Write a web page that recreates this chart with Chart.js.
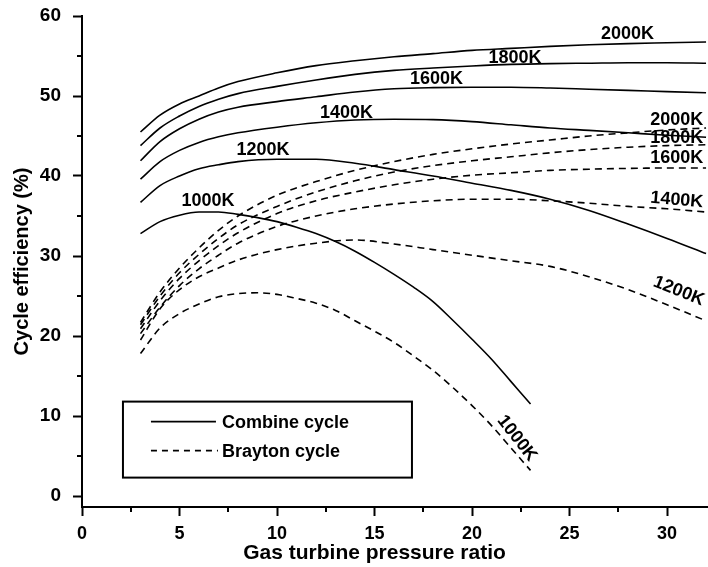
<!DOCTYPE html>
<html>
<head>
<meta charset="utf-8">
<script src="https://cdn.jsdelivr.net/npm/chart.js@4.4.1/dist/chart.umd.min.js"></script>
<style>
  html, body { margin: 0; padding: 0; background: #fff; }
  #wrap { width: 708px; height: 567px; }
</style>
</head>
<body>
<div id="wrap"><canvas id="c" width="708" height="567"></canvas></div>
<script>
// Gas turbine pressure ratio sample points
const pressureRatio = [3, 4, 5, 6, 7, 8, 10, 12, 14, 16, 18, 20, 22, 24, 26, 28, 30, 32];
const pressureRatio1000 = [3, 4, 5, 6, 7, 8, 9, 10, 11, 12, 13, 14, 15, 16, 17, 18, 19, 20, 21, 22, 23];

// Combined cycle efficiency (%) by turbine inlet temperature
const combined2000 = [45.5, 47.6, 49.0, 50.0, 51.0, 51.8, 52.9, 53.8, 54.4, 54.9, 55.3, 55.7, 55.95, 56.2, 56.4, 56.55, 56.65, 56.75];
const combined1800 = [43.8, 46.0, 47.5, 48.7, 49.6, 50.3, 51.2, 52.0, 52.7, 53.2, 53.5, 53.75, 53.95, 54.05, 54.1, 54.15, 54.15, 54.1];
const combined1600 = [41.9, 44.3, 45.9, 47.1, 48.0, 48.6, 49.3, 49.9, 50.5, 50.9, 51.05, 51.1, 51.1, 51.0, 50.85, 50.7, 50.55, 50.4];
const combined1400 = [39.6, 41.8, 43.2, 44.2, 44.9, 45.4, 46.1, 46.65, 47.0, 47.1, 47.05, 46.8, 46.4, 46.0, 45.7, 45.4, 45.1, 44.85];
const combined1200 = [36.7, 38.8, 40.0, 40.9, 41.4, 41.8, 42.1, 42.1, 41.6, 40.8, 40.0, 39.1, 38.2, 37.1, 35.7, 34.0, 32.2, 30.3];
const combined1000 = [32.8, 34.3, 35.1, 35.5, 35.5, 35.2, 34.8, 34.3, 33.6, 32.8, 31.8, 30.6, 29.2, 27.7, 26.1, 24.3, 22.0, 19.6, 17.1, 14.3, 11.5];

// Brayton cycle efficiency (%) by turbine inlet temperature
const brayton2000 = [21.7, 25.5, 28.5, 31.0, 33.2, 35.0, 37.6, 39.3, 40.7, 41.8, 42.7, 43.4, 44.0, 44.5, 45.0, 45.4, 45.75, 46.0];
const brayton1800 = [21.4, 25.0, 27.9, 30.2, 32.2, 33.9, 36.2, 38.0, 39.4, 40.5, 41.3, 41.9, 42.4, 42.9, 43.3, 43.6, 43.8, 43.9];
const brayton1600 = [20.9, 24.4, 27.2, 29.4, 31.3, 32.9, 35.3, 36.9, 38.0, 38.9, 39.6, 40.1, 40.4, 40.7, 40.85, 40.95, 41.0, 41.0];
const brayton1400 = [20.3, 23.6, 26.3, 28.4, 30.1, 31.6, 33.7, 35.0, 35.9, 36.5, 36.9, 37.1, 37.1, 36.9, 36.6, 36.2, 35.9, 35.5];
const brayton1200 = [19.5, 23.4, 25.8, 27.4, 28.5, 29.5, 30.8, 31.6, 32.0, 31.5, 30.8, 30.1, 29.4, 28.7, 27.4, 25.8, 23.9, 21.9];
const brayton1000 = [17.8, 21.0, 22.8, 24.0, 24.9, 25.3, 25.4, 25.2, 24.7, 24.1, 23.2, 21.9, 20.6, 19.2, 17.5, 15.7, 13.6, 11.3, 8.8, 6.0, 3.2];

// Axis ticks
const xMajorTicks = [0, 5, 10, 15, 20, 25, 30];
const xMinorTicks = [2.5, 7.5, 12.5, 17.5, 22.5, 27.5];
const yMajorTicks = [0, 10, 20, 30, 40, 50, 60];
const yMinorTicks = [5, 15, 25, 35, 45, 55];

const xTitle = 'Gas turbine pressure ratio';
const legendItems = ['Combine cycle', 'Brayton cycle'];

// Temperature labels written beside the curves (data coordinates)
const curveLabels = [
  { text: '2000K', x: 27.97, y: 57.75, rot: 0 },
  { text: '1800K', x: 22.2,  y: 54.8,  rot: 0 },
  { text: '1600K', x: 18.18, y: 52.1,  rot: 0 },
  { text: '1400K', x: 13.56, y: 47.9,  rot: 0 },
  { text: '1200K', x: 9.28,  y: 43.2,  rot: 0 },
  { text: '1000K', x: 6.46,  y: 36.9,  rot: 0 },
  { text: '2000K', x: 30.5,  y: 47.0,  rot: 0 },
  { text: '1800K', x: 30.5,  y: 44.8,  rot: 0 },
  { text: '1600K', x: 30.5,  y: 42.2,  rot: 0 },
  { text: '1400K', x: 30.5,  y: 37.0,  rot: 5 },
  { text: '1200K', x: 30.6,  y: 25.6,  rot: 22 },
  { text: '1000K', x: 22.3,  y: 7.2,   rot: 52 }
];

const pts = (xs, ys) => xs.map((x, i) => ({ x: x, y: ys[i] }));
const DASH = [7, 5];

function series(label, xs, ys, dashed) {
  return {
    label: label,
    data: pts(xs, ys),
    borderColor: '#000',
    borderWidth: 1.6,
    borderDash: dashed ? DASH : [],
    pointRadius: 0,
    fill: false,
    cubicInterpolationMode: 'monotone'
  };
}

const datasets = [
  series('Combined 2000K', pressureRatio, combined2000, false),
  series('Combined 1800K', pressureRatio, combined1800, false),
  series('Combined 1600K', pressureRatio, combined1600, false),
  series('Combined 1400K', pressureRatio, combined1400, false),
  series('Combined 1200K', pressureRatio, combined1200, false),
  series('Combined 1000K', pressureRatio1000, combined1000, false),
  series('Brayton 2000K', pressureRatio, brayton2000, true),
  series('Brayton 1800K', pressureRatio, brayton1800, true),
  series('Brayton 1600K', pressureRatio, brayton1600, true),
  series('Brayton 1400K', pressureRatio, brayton1400, true),
  series('Brayton 1200K', pressureRatio, brayton1200, true),
  series('Brayton 1000K', pressureRatio1000, brayton1000, true)
];

const FONT = "'Liberation Sans', Arial, Helvetica, sans-serif";

// Short minor ticks, x title, curve labels and the boxed legend
const decorations = {
  id: 'decorations',
  afterDraw(chart) {
    const { ctx, chartArea: ca, scales: { x, y } } = chart;
    ctx.save();
    ctx.strokeStyle = '#000';
    ctx.lineWidth = 2;
    ctx.setLineDash([]);
    ctx.beginPath();
    yMinorTicks.forEach(v => {
      const py = Math.round(y.getPixelForValue(v));
      ctx.moveTo(ca.left - 5, py);
      ctx.lineTo(ca.left, py);
    });
    xMinorTicks.forEach(v => {
      const px = Math.round(x.getPixelForValue(v));
      ctx.moveTo(px, ca.bottom);
      ctx.lineTo(px, ca.bottom + 5);
    });
    ctx.stroke();

    ctx.fillStyle = '#000';
    ctx.textAlign = 'center';
    ctx.textBaseline = 'middle';

    // axis title centred under the labelled 0-30 span
    ctx.font = 'bold 21px ' + FONT;
    ctx.fillText(xTitle, (x.getPixelForValue(0) + x.getPixelForValue(30)) / 2, ca.bottom + 46);

    ctx.font = 'bold 18px ' + FONT;
    curveLabels.forEach(l => {
      ctx.save();
      ctx.translate(x.getPixelForValue(l.x), y.getPixelForValue(l.y));
      ctx.rotate(l.rot * Math.PI / 180);
      ctx.fillText(l.text, 0, 0);
      ctx.restore();
    });

    // legend box inside the plot area
    const bx = x.getPixelForValue(2.1), by = y.getPixelForValue(11.8);
    const bw = 289, bh = 76;
    ctx.lineWidth = 2;
    ctx.strokeRect(bx, by, bw, bh);
    ctx.lineWidth = 1.6;
    ctx.beginPath();
    ctx.moveTo(bx + 28, by + 20);
    ctx.lineTo(bx + 93, by + 20);
    ctx.stroke();
    ctx.setLineDash([6, 5]);
    ctx.beginPath();
    ctx.moveTo(bx + 28, by + 49);
    ctx.lineTo(bx + 95, by + 49);
    ctx.stroke();
    ctx.setLineDash([]);
    ctx.font = 'bold 18px ' + FONT;
    ctx.textAlign = 'left';
    ctx.fillText(legendItems[0], bx + 99, by + 21);
    ctx.fillText(legendItems[1], bx + 99, by + 50);
    ctx.restore();
  }
};

new Chart(document.getElementById('c'), {
  type: 'line',
  data: { datasets: datasets },
  options: {
    responsive: false,
    animation: false,
    layout: { padding: { top: 16, right: 0, left: 0, bottom: 0 } },
    plugins: { legend: { display: false }, tooltip: { enabled: false } },
    scales: {
      x: {
        type: 'linear',
        min: 0,
        max: 32.1,
        afterBuildTicks: s => { s.ticks = xMajorTicks.map(v => ({ value: v })); },
        afterFit: s => { s.height = 60; s.paddingLeft = 0; s.paddingRight = 0; },
        border: { display: true, color: '#000', width: 2 },
        grid: { display: true, drawOnChartArea: false, drawTicks: true, tickLength: 9, tickWidth: 2, tickColor: '#000' },
        ticks: { color: '#000', padding: 7, maxRotation: 0, font: { family: FONT, size: 18, weight: 'bold' } },
        title: { display: false }
      },
      y: {
        type: 'linear',
        min: -1.375,
        max: 60,
        afterBuildTicks: s => { s.ticks = yMajorTicks.map(v => ({ value: v })); },
        afterFit: s => { s.width = 82; s.paddingTop = 0; s.paddingBottom = 0; },
        border: { display: true, color: '#000', width: 2 },
        grid: { display: true, drawOnChartArea: false, drawTicks: true, tickLength: 9, tickWidth: 2, tickColor: '#000' },
        ticks: { color: '#000', padding: 12, font: { family: FONT, size: 19, weight: 'bold' } },
        title: { display: true, text: 'Cycle efficiency (%)', color: '#000', padding: { top: 10, bottom: 0 }, font: { family: FONT, size: 20, weight: 'bold' } }
      }
    }
  },
  plugins: [decorations]
});
</script>
</body>
</html>
